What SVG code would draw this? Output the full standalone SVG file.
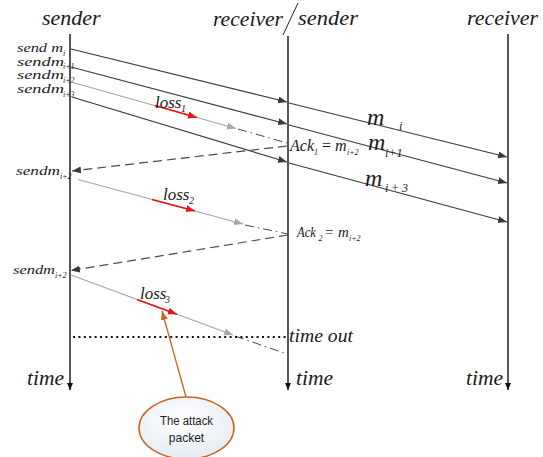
<svg xmlns="http://www.w3.org/2000/svg" width="543" height="457" viewBox="0 0 543 457">
  <defs>
    <style>
      .t { font-family: "Liberation Serif", "DejaVu Serif", serif; font-style: italic; fill: #1a1a1a; }
      .ttl { font-size: 22px; }
      .snd { font-size: 12px; }
      .sub { font-size: 8px; }
      .big { font-size: 24px; }
      .bsub { font-size: 12px; }
      .loss { font-size: 17px; }
      .lsub { font-size: 10px; }
      .ack { font-size: 16px; }
      .life { fill: none; stroke: #111; stroke-width: 1.4; }
      .msg { fill: none; stroke: #3a3a3a; stroke-width: 1.2; }
      .lost { fill: none; stroke: #a6a6a6; stroke-width: 1.2; }
      .red { fill: none; stroke: #ee1111; stroke-width: 1.6; }
      .dd { fill: none; stroke: #4a4a4a; stroke-width: 1; stroke-dasharray: 9 4 1.5 4; }
      .ackln { fill: none; stroke: #4a4a4a; stroke-width: 1.2; stroke-dasharray: 9 5; }
      .dots { fill: none; stroke: #111; stroke-width: 2; stroke-dasharray: 2 3.4; }
      .org { fill: none; stroke: #c8651b; stroke-width: 1.3; }
      .lbl { font-family: "Liberation Sans", Arial, sans-serif; font-size: 12px; fill: #222; }
    </style>
    <marker id="ahDark" markerUnits="userSpaceOnUse" markerWidth="10" markerHeight="8" refX="9" refY="3.5" orient="auto">
      <path d="M0,0 L9,3.5 L0,7 z" fill="#3a3a3a"/>
    </marker>
    <marker id="ahGray" markerUnits="userSpaceOnUse" markerWidth="10" markerHeight="8" refX="9" refY="3.5" orient="auto">
      <path d="M0,0 L9,3.5 L0,7 z" fill="#a6a6a6"/>
    </marker>
    <marker id="ahRed" markerUnits="userSpaceOnUse" markerWidth="10" markerHeight="8" refX="9" refY="3.5" orient="auto">
      <path d="M0,0 L9,3.5 L0,7 z" fill="#ee1111"/>
    </marker>
    <marker id="ahOrange" markerUnits="userSpaceOnUse" markerWidth="10" markerHeight="8" refX="9" refY="3.5" orient="auto">
      <path d="M0,0 L9,3.5 L0,7 z" fill="#c8651b"/>
    </marker>
    <marker id="ahBlack" markerUnits="userSpaceOnUse" markerWidth="10" markerHeight="8" refX="7" refY="3" orient="auto">
      <path d="M0,0 L7,3 L0,6 z" fill="#111"/>
    </marker>
    <radialGradient id="bubble" cx="0.45" cy="0.35" r="0.7">
      <stop offset="0" stop-color="#ffffff"/>
      <stop offset="1" stop-color="#e4ebf3"/>
    </radialGradient>
  </defs>

  <rect width="543" height="457" fill="#ffffff"/>

  <!-- lifeline headers -->
  <g id="hdr-sender">
    <text class="t ttl" x="42" y="25">sender</text>
  </g>
  <g id="hdr-relay">
    <text class="t ttl" x="213" y="26" textLength="70" lengthAdjust="spacingAndGlyphs">receiver</text>
    <path d="M298,3 L283,35" fill="none" stroke="#222" stroke-width="1"/>
    <text class="t" style="font-size:21px" x="298" y="25" textLength="60" lengthAdjust="spacingAndGlyphs">sender</text>
  </g>
  <g id="hdr-receiver">
    <text class="t ttl" x="467" y="25" textLength="71" lengthAdjust="spacingAndGlyphs">receiver</text>
  </g>

  <!-- lifelines with time axis -->
  <g id="lifelines">
    <path class="life" d="M70,34 L70,390" stroke="#444" marker-end="url(#ahBlack)"/>
    <path class="life" d="M288,36 L288,390" marker-end="url(#ahBlack)"/>
    <path class="life" d="M508,34 L508,390" marker-end="url(#ahBlack)"/>
    <text class="t" style="font-size:21px" x="27" y="385" textLength="37" lengthAdjust="spacingAndGlyphs">time</text>
    <text class="t" style="font-size:21px" x="296" y="385" textLength="37" lengthAdjust="spacingAndGlyphs">time</text>
    <text class="t" style="font-size:21px" x="466" y="385" textLength="37" lengthAdjust="spacingAndGlyphs">time</text>
  </g>

  <!-- send labels on the sender side -->
  <g id="send-labels">
    <text class="t snd" x="17" y="52" textLength="46" lengthAdjust="spacingAndGlyphs">send m</text>
    <text class="t sub" x="63" y="56">i</text>
    <text class="t snd" x="17" y="65.5" textLength="47" lengthAdjust="spacingAndGlyphs">sendm</text>
    <text class="t sub" x="63" y="69">i+1</text>
    <text class="t snd" x="17" y="79" textLength="47" lengthAdjust="spacingAndGlyphs">sendm</text>
    <text class="t sub" x="63" y="83">i+2</text>
    <text class="t snd" x="17" y="93" textLength="47" lengthAdjust="spacingAndGlyphs">sendm</text>
    <text class="t sub" x="63" y="97">i+3</text>
    <text class="t snd" x="16" y="175" textLength="44" lengthAdjust="spacingAndGlyphs">sendm</text>
    <text class="t sub" x="60" y="179">i+2</text>
    <text class="t snd" x="13" y="274" textLength="42" lengthAdjust="spacingAndGlyphs">sendm</text>
    <text class="t sub" x="55" y="278">i+2</text>
  </g>

  <!-- connectors -->
  <g id="connectors">
    <!-- delivered messages, relayed onward -->
    <path class="msg" d="M71,49 L287,102" marker-end="url(#ahDark)"/>
    <path class="msg" d="M289,103 L507,157" marker-end="url(#ahDark)"/>
    <path class="msg" d="M71,67 L287,124" marker-end="url(#ahDark)"/>
    <path class="msg" d="M289,125 L507,183" marker-end="url(#ahDark)"/>
    <path class="msg" d="M72,97 L287,162" marker-end="url(#ahDark)"/>
    <path class="msg" d="M289,163 L507,222" marker-end="url(#ahDark)"/>

    <!-- lost packet 1 -->
    <path class="lost" d="M71,82 L236,128.5" marker-end="url(#ahGray)"/>
    <path class="red" d="M155,105.6 L197,117.5" marker-end="url(#ahRed)"/>
    <path class="dd" d="M238,129 L287,143"/>
    <path class="ackln" d="M287,146 L72,171" marker-end="url(#ahDark)"/>

    <!-- lost packet 2 -->
    <path class="lost" d="M78,179.5 L243,224" marker-end="url(#ahGray)"/>
    <path class="red" d="M152,199.4 L195,211" marker-end="url(#ahRed)"/>
    <path class="dd" d="M245,225 L288,234"/>
    <path class="ackln" d="M288,235 L71,270.5" marker-end="url(#ahDark)"/>

    <!-- lost packet 3 -->
    <path class="lost" d="M71,275 L233,335" marker-end="url(#ahGray)"/>
    <path class="red" d="M137,299.4 L177,314.2" marker-end="url(#ahRed)"/>
    <path class="dd" d="M235,336 L287,354"/>

    <!-- timeout -->
    <path class="dots" d="M73,337 L288,337"/>

    <!-- callout pointer -->
    <path class="org" d="M186,397 L162,311" marker-end="url(#ahOrange)"/>
  </g>

  <!-- message and loss labels -->
  <g id="msg-labels">
    <text class="t big" x="367" y="125">m</text>
    <text class="t bsub" x="399" y="130">i</text>
    <text class="t big" x="368" y="150">m</text>
    <text class="t bsub" x="385" y="157">i+1</text>
    <text class="t big" x="365" y="186">m</text>
    <text class="t bsub" x="385" y="192" textLength="23" lengthAdjust="spacing">i+3</text>

    <text class="t loss" x="155" y="108">loss</text>
    <text class="t lsub" x="181" y="112">1</text>
    <text class="t loss" x="163" y="200">loss</text>
    <text class="t lsub" x="189" y="204">2</text>
    <text class="t loss" x="140" y="299">loss</text>
    <text class="t lsub" x="165" y="303">3</text>
  </g>

  <g id="ack-labels">
    <text class="t ack" x="290" y="151">Ack</text>
    <text class="t sub" x="314" y="155">1</text>
    <text class="t ack" x="321" y="151">=</text>
    <text class="t ack" x="335" y="151">m</text>
    <text class="t sub" x="347" y="155">i+2</text>

    <text class="t" style="font-size:15px" x="297" y="237" textLength="19" lengthAdjust="spacingAndGlyphs">Ack</text>
    <text class="t sub" x="318.5" y="241">2</text>
    <text class="t" style="font-size:15px" x="324" y="237">=</text>
    <text class="t" style="font-size:15px" x="338" y="237">m</text>
    <text class="t sub" x="349" y="241">i+2</text>

    <text class="t" style="font-size:19px" x="289" y="342" textLength="64" lengthAdjust="spacingAndGlyphs">time out</text>
  </g>

  <!-- callout bubble -->
  <g id="attack-packet">
    <ellipse cx="186.5" cy="428" rx="47.5" ry="31" fill="url(#bubble)" stroke="#c8651b" stroke-width="1.5"/>
    <text class="lbl" x="186.5" y="425" text-anchor="middle" textLength="53" lengthAdjust="spacingAndGlyphs">The attack</text>
    <text class="lbl" x="186.5" y="442" text-anchor="middle">packet</text>
  </g>
</svg>
